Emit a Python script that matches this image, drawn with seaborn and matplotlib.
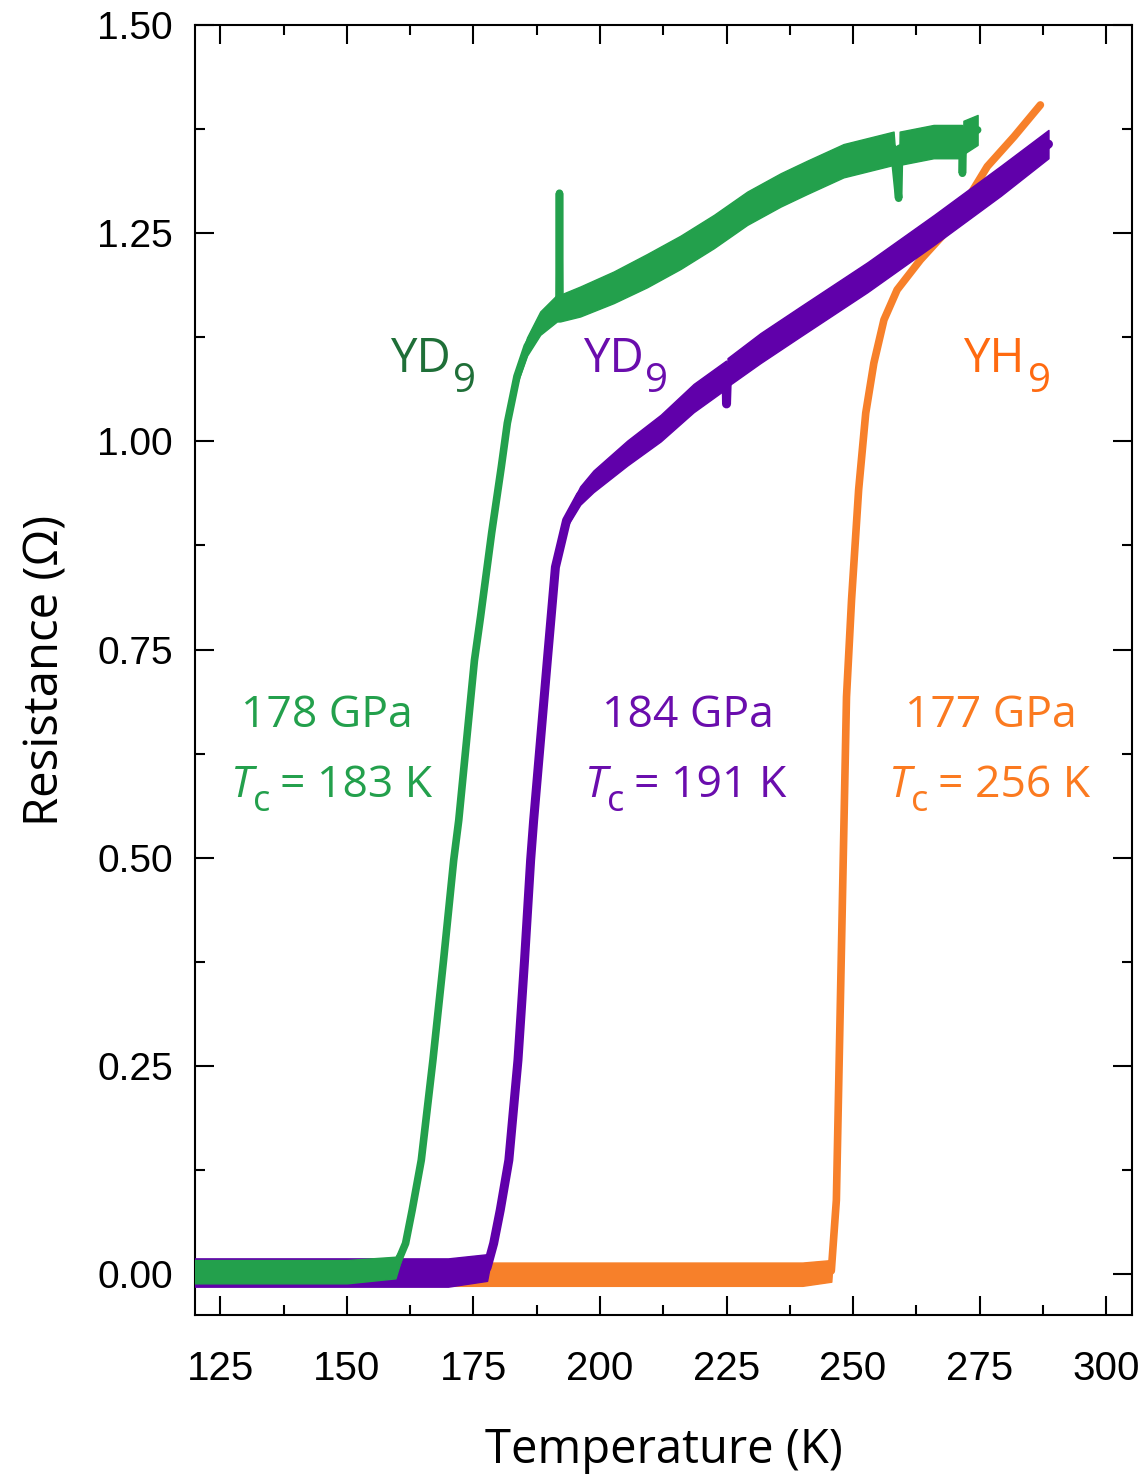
import numpy as np
import pandas as pd
import matplotlib
matplotlib.use("Agg")
import matplotlib.pyplot as plt
import seaborn as sns
from matplotlib.ticker import MultipleLocator, FormatStrFormatter

# ---------------- data ----------------
# YD9 at 178 GPa (green)
green_T = [120, 130, 140, 150, 159.6, 161.6, 162.9, 164.7, 167.0, 169.1, 171.1,
           172.1, 175.2, 176.4, 178.6, 180.5, 181.7, 183.6, 185.6, 188.2, 191.5,
           191.9, 192.0, 192.1, 196.1, 202.7, 209.3, 215.9, 222.5, 229.1, 235.7,
           240.9, 248.1, 258.0, 259.0, 259.2, 265.9, 271.5, 271.6, 271.8, 274.6]
green_R = [0.003, 0.003, 0.003, 0.003, 0.008, 0.037, 0.077, 0.137, 0.257, 0.377, 0.497,
           0.545, 0.737, 0.789, 0.890, 0.969, 1.022, 1.078, 1.114, 1.142, 1.160,
           1.160, 1.298, 1.160, 1.168, 1.185, 1.205, 1.227, 1.252, 1.280, 1.302,
           1.317, 1.337, 1.352, 1.292, 1.352, 1.360, 1.360, 1.322, 1.365, 1.374]
green_noise = [0.014, 0.014, 0.014, 0.014, 0.013, 0.002, 0.002, 0.002, 0.002, 0.002, 0.002,
               0.002, 0.002, 0.002, 0.003, 0.004, 0.006, 0.009, 0.011, 0.014, 0.016,
               0.016, 0.0, 0.016, 0.018, 0.019, 0.020, 0.020, 0.020, 0.020, 0.020,
               0.020, 0.020, 0.020, 0.0, 0.020, 0.020, 0.020, 0.0, 0.020, 0.018]

# YD9 at 184 GPa (purple)
purple_T = [120, 130, 140, 150, 160, 170, 177.7, 179.0, 180.3, 182.0, 183.8, 185.1,
            186.3, 186.9, 189.6, 191.2, 193.4, 196.1, 198.7, 205.4, 212.0, 218.5,
            224.9, 225.0, 225.2, 231.7, 239.6, 252.8, 266.0, 279.2, 288.6]
purple_R = [0.002, 0.002, 0.002, 0.002, 0.002, 0.002, 0.008, 0.037, 0.077, 0.137, 0.257, 0.377,
            0.497, 0.545, 0.737, 0.849, 0.905, 0.935, 0.952, 0.986, 1.016, 1.052,
            1.080, 1.045, 1.083, 1.112, 1.144, 1.197, 1.254, 1.313, 1.357]
purple_noise = [0.017, 0.017, 0.017, 0.017, 0.017, 0.017, 0.016, 0.003, 0.003, 0.003, 0.003, 0.003,
                0.003, 0.003, 0.003, 0.005, 0.008, 0.011, 0.013, 0.015, 0.016, 0.017,
                0.017, 0.0, 0.017, 0.018, 0.018, 0.018, 0.018, 0.018, 0.017]

# YH9 at 177 GPa (orange)
orange_T = [120, 130, 140, 150, 160, 170, 180, 190, 200, 210, 220, 230, 240, 245.7,
            246.7, 247.5, 248.7, 249.7, 251.1, 252.5, 254.1, 256.1, 258.7, 263.3,
            269.3, 276.5, 281.8, 287.0]
orange_R = [0.0, 0.0, 0.0, 0.0, 0.0, 0.0, 0.0, 0.0, 0.0, 0.0, 0.0, 0.0, 0.0, 0.004,
            0.089, 0.330, 0.693, 0.810, 0.942, 1.034, 1.094, 1.146, 1.182, 1.218,
            1.258, 1.330, 1.366, 1.404]
orange_noise = [0.014, 0.014, 0.014, 0.014, 0.014, 0.014, 0.014, 0.014, 0.014, 0.014, 0.014,
                0.014, 0.014, 0.013, 0.0, 0.0, 0.0, 0.0, 0.0, 0.0, 0.0, 0.0, 0.0, 0.0,
                0.0, 0.0, 0.0, 0.0]

x_ticks = [125, 150, 175, 200, 225, 250, 275, 300]
y_ticks = [0.00, 0.25, 0.50, 0.75, 1.00, 1.25, 1.50]

compound_main = ["YD", "YD", "YH"]
compound_sub = ["9", "9", "9"]
labels_pressure = ["178 GPa", "184 GPa", "177 GPa"]
labels_tc = ["= 183 K", "= 191 K", "= 256 K"]

c_green, c_purple, c_orange = "#23a04c", "#6000aa", "#f7802a"
c_green_txt, c_purple_txt, c_orange_txt = "#23a04c", "#6a0dad", "#fb7a20"
c_green_lab, c_orange_lab = "#1f6f38", "#ff6a10"

# ---------------- style ----------------
sns.set_theme(style="ticks")
plt.rcParams.update({
    "font.family": ["Open Sans", "DejaVu Sans"],
    "axes.linewidth": 1.5,
    "axes.edgecolor": "black",
})

fig = plt.figure(figsize=(11.48, 14.80), dpi=100)
ax = fig.add_axes([195 / 1148, 1 - 1315 / 1480, (1132 - 195) / 1148, (1315 - 25) / 1480])


def draw(T, R, N, color, lw, z):
    df = pd.DataFrame({"T": T, "R": R})
    df["lo"] = df["R"] - np.asarray(N)
    df["hi"] = df["R"] + np.asarray(N)
    ax.fill_between(df["T"], df["lo"], df["hi"], color=color, lw=1.0, ec=color, zorder=z)
    sns.lineplot(data=df, x="T", y="R", ax=ax, color=color, lw=lw, sort=False,
                 estimator=None, zorder=z, solid_capstyle="round", solid_joinstyle="round")


draw(orange_T, orange_R, orange_noise, c_orange, 5.5, 2)
draw(purple_T, purple_R, purple_noise, c_purple, 6.5, 3)
draw(green_T, green_R, green_noise, c_green, 5.5, 4)

ax.set_xlim(120, 305.1)
ax.set_ylim(-0.049, 1.5)
ax.set_xticks(x_ticks)
ax.set_yticks(y_ticks)
ax.xaxis.set_minor_locator(MultipleLocator(12.5))
ax.yaxis.set_minor_locator(MultipleLocator(0.125))
ax.yaxis.set_major_formatter(FormatStrFormatter("%.2f"))
ax.tick_params(which="both", direction="in", top=True, right=True, width=1.5, color="black")
ax.tick_params(which="major", length=14)
ax.tick_params(which="minor", length=7)
ax.tick_params(axis="x", which="major", pad=25, labelsize=29, labelcolor="black")
ax.tick_params(axis="y", which="major", pad=16, labelsize=28, labelcolor="black")
for lab in ax.get_xticklabels() + ax.get_yticklabels():
    lab.set_fontfamily(["Liberation Sans", "DejaVu Sans"])

ax.set_xlabel("Temperature (K)", fontsize=34, labelpad=28, color="black")
ax.set_ylabel("Resistance (\u03a9)", fontsize=34, labelpad=20, color="black")

# compound labels (main text + lowered subscript)
for x0, main, sub, col, dx in [(158.6, compound_main[0], compound_sub[0], c_green_lab, 63),
                              (196.7, compound_main[1], compound_sub[1], c_purple_txt, 62),
                              (271.8, compound_main[2], compound_sub[2], c_orange_lab, 65)]:
    ax.text(x0, 1.083, main, color=col, fontsize=34, ha="left", va="baseline")
    ax.annotate(sub, xy=(x0, 1.083), xytext=(dx, -20), textcoords="offset pixels",
                color=col, fontsize=29, ha="left", va="baseline")

# pressure + Tc labels
for xc_p, xT, p, tc, col in [(146.0, 127.1, labels_pressure[0], labels_tc[0], c_green_txt),
                             (217.3, 197.0, labels_pressure[1], labels_tc[1], c_purple_txt),
                             (277.2, 257.1, labels_pressure[2], labels_tc[2], c_orange_txt)]:
    ax.text(xp := xc_p, 0.657, p, color=col, fontsize=32, ha="center", va="baseline")
    ax.text(xT, 0.573, "T", color=col, fontsize=32, style="italic", ha="left", va="baseline")
    ax.annotate("c", xy=(xT, 0.573), xytext=(22, -14), textcoords="offset pixels",
                color=col, fontsize=26, ha="left", va="baseline")
    ax.annotate(tc, xy=(xT, 0.573), xytext=(49, 0), textcoords="offset pixels",
                color=col, fontsize=32, ha="left", va="baseline")

fig.savefig("out.png", dpi=100)
